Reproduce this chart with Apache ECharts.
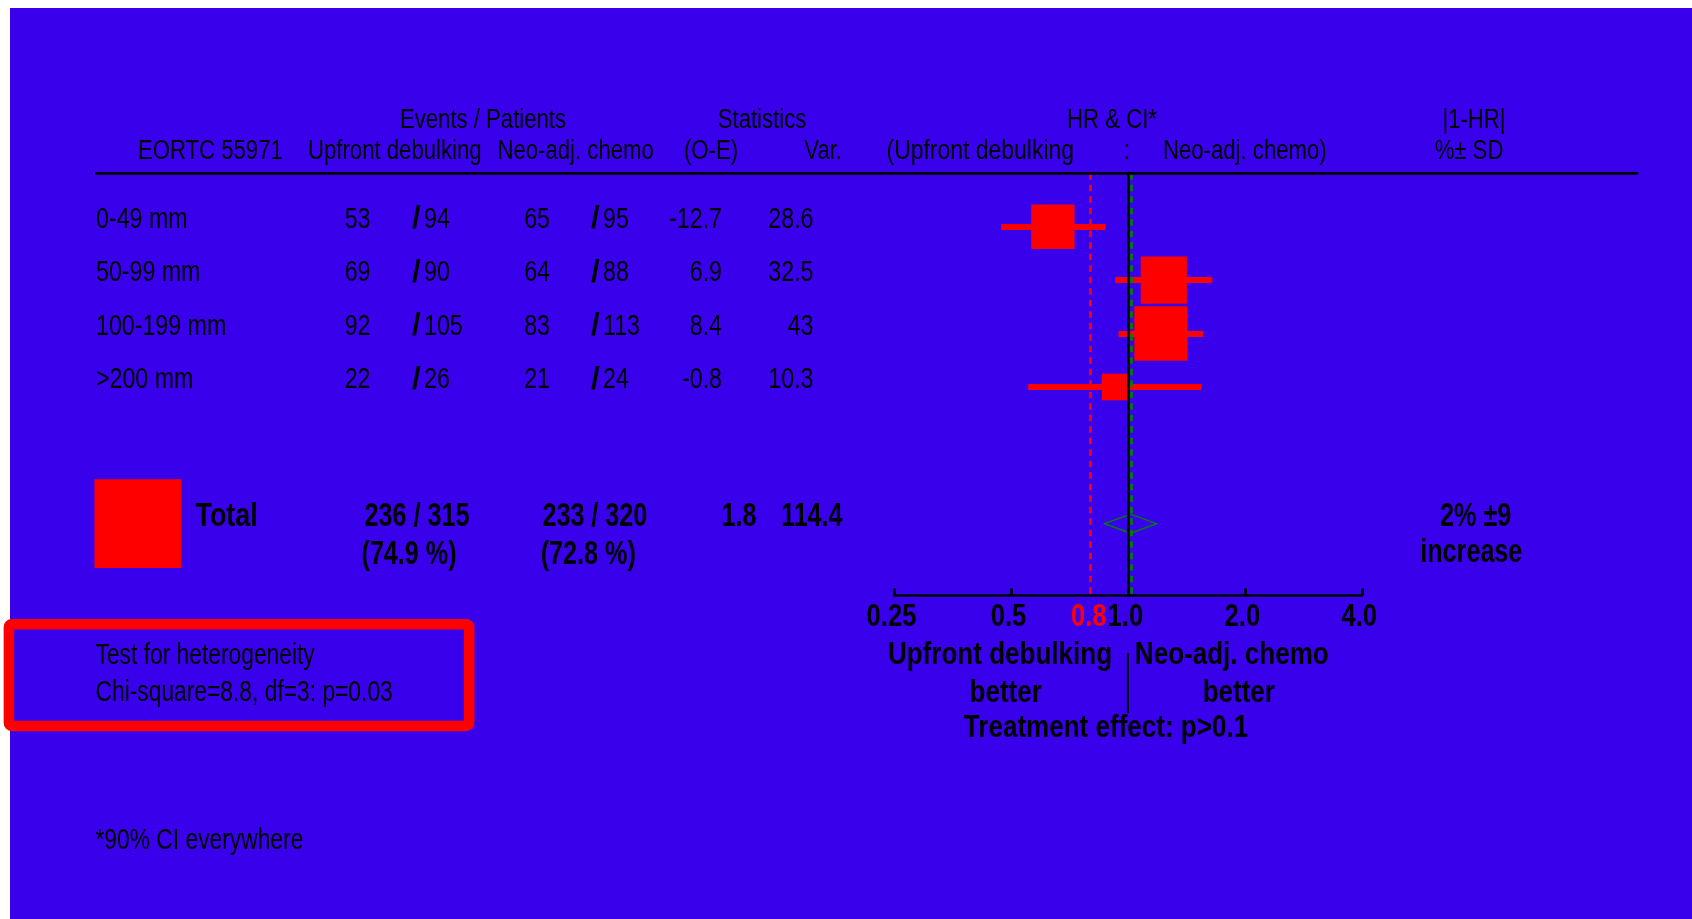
<!DOCTYPE html>
<html>
<head>
<meta charset="utf-8">
<script src="https://cdn.jsdelivr.net/npm/echarts@6/dist/echarts.min.js"></script>
<style>
  html, body { margin: 0; padding: 0; background: #fff; }
  #chart { width: 1692px; height: 919px; }
</style>
</head>
<body>
<div id="chart"></div>
<script>
// EORTC 55971 — residual tumour size subgroups
const subgroups = ['0-49 mm', '50-99 mm', '100-199 mm', '>200 mm'];
const upfrontEvents = [53, 69, 92, 22];
const upfrontPatients = [94, 90, 105, 26];
const neoEvents = [65, 64, 83, 21];
const neoPatients = [95, 88, 113, 24];
const oMinusE = [-12.7, 6.9, 8.4, -0.8];
const variance = [28.6, 32.5, 43, 10.3];
// hazard ratio and 90% confidence limits per subgroup
const hr = [0.641, 1.237, 1.216, 0.925];
const hrLow = [0.472, 0.927, 0.946, 0.554];
const hrHigh = [0.877, 1.650, 1.562, 1.545];

// overall result
const totalUpfront = ['236 / 315', '(74.9 %)'];
const totalNeo = ['233 / 320', '(72.8 %)'];
const totalOE = 1.8;
const totalVar = 114.4;
const totalHR = [0.871, 1.016, 1.185]; // low, estimate, high
const totalChange = ['2% ±9', 'increase'];
const refHR = 0.8;

// HR axis
const xTicks = [0.25, 0.5, 1, 2, 4];
const xTickLabels = ['0.25', '0.5', '1.0', '2.0', '4.0'];

const BLUE = '#3900EC', RED = '#FF0000', GREEN = '#008000', BLACK = '#000000';
const SANS = '"Liberation Sans", Arial, sans-serif';

const Y_MAX = 7.9;        // row slots inside the plot area
const TOTAL_POS = 6.56;   // slot of the overall diamond
const sq = v => [8.1 * Math.sqrt(v), 8.3 * Math.sqrt(v)];

const chart = echarts.init(document.getElementById('chart'), null, { width: 1692, height: 919 });

chart.setOption({
  animation: false,
  backgroundColor: BLUE,
  grid: { left: 894, top: 173.3, width: 467.8, height: 422 },
  xAxis: {
    type: 'log', logBase: 2, min: 0.25, max: 4,
    axisLine: { onZero: false, lineStyle: { color: BLACK, width: 2.7 } },
    axisTick: { inside: true, length: 7, lineStyle: { color: BLACK, width: 2.7 } },
    // tick captions are set in a narrow face below, at the axis' own tick positions
    axisLabel: { show: false },
    splitLine: { show: false }
  },
  yAxis: { type: 'value', min: 0, max: Y_MAX, inverse: true, show: false },
  series: [
    {
      // confidence interval bars
      type: 'lines', coordinateSystem: 'cartesian2d', silent: true, z: 2,
      lineStyle: { color: RED, width: 6, opacity: 1 },
      data: subgroups.map((_, i) => ({ coords: [[hrLow[i], i + 1], [hrHigh[i], i + 1]] }))
    },
    {
      // subgroup estimates, area proportional to variance
      type: 'scatter', silent: true, z: 3, symbol: 'rect',
      symbolSize: d => sq(d[2]),
      itemStyle: { color: RED, opacity: 1 },
      data: subgroups.map((_, i) => [hr[i], i + 1, variance[i]])
    },
    {
      // overall diamond
      type: 'custom', silent: true, z: 4,
      encode: { x: [0, 1, 2], y: 3 },
      data: [[totalHR[0], totalHR[1], totalHR[2], TOTAL_POS]],
      renderItem: (params, api) => {
        const y = api.coord([1, api.value(3)])[1];
        const xl = api.coord([api.value(0), 1])[0];
        const xc = api.coord([api.value(1), 1])[0];
        const xr = api.coord([api.value(2), 1])[0];
        return {
          type: 'polygon',
          shape: { points: [[xl, y], [xc, y - 9.5], [xr, y], [xc, y + 9.5]] },
          style: { fill: null, stroke: GREEN, lineWidth: 1.3 }
        };
      }
    },
    {
      // reference lines
      type: 'line', data: [], z: 10, silent: true,
      markLine: {
        silent: true, symbol: 'none', animation: false,
        label: { show: false },
        data: [
          { xAxis: refHR, lineStyle: { color: RED, type: [6.5, 5], width: 2.7 } },
          { xAxis: totalHR[1], lineStyle: { color: GREEN, type: [6.5, 5], width: 2.7 } },
          { xAxis: 1, lineStyle: { color: BLACK, type: 'solid', width: 2.5 } }
        ]
      }
    }
  ]
});

const px = (x, y) => chart.convertToPixel({ gridIndex: 0 }, [x, y]);

function label(x, y, text, o) {
  return {
    type: 'text', x, y, scaleX: o.sx, z: 20, silent: true,
    style: {
      text, fill: o.color || BLACK,
      font: (o.bold ? 'bold ' : '') + o.size + 'px ' + SANS,
      textAlign: o.align || 'left', textVerticalAlign: 'middle'
    }
  };
}
const H = { size: 27, sx: 0.82 };
const R = { size: 29, sx: 0.8 };
const TOT = { size: 34, bold: true, sx: 0.74 };
const B = { size: 31, bold: true, sx: 0.84 };
const F = { size: 30, sx: 0.76 };
const SL = { size: 31, bold: true, sx: 1 };
const TK = { size: 32, bold: true, sx: 0.8, align: 'center' };

const els = [];
// page margin
els.push({ type: 'rect', z: 1, silent: true, shape: { x: 0, y: 0, width: 10, height: 919 }, style: { fill: '#fff' } });
els.push({ type: 'rect', z: 1, silent: true, shape: { x: 0, y: 0, width: 1692, height: 8 }, style: { fill: '#fff' } });

// column headers
const topY = px(1, 0)[1];
els.push(label(483, 121, 'Events / Patients', { ...H, align: 'center' }));
els.push(label(762, 121, 'Statistics', { ...H, align: 'center' }));
els.push(label(1112, 121, 'HR & CI*', { ...H, align: 'center' }));
els.push(label(1474, 121, '|1-HR|', { ...H, align: 'center' }));
els.push(label(138, 152, 'EORTC 55971', H));
els.push(label(308, 152, 'Upfront debulking', H));
els.push(label(497.5, 152, 'Neo-adj. chemo', H));
els.push(label(684, 152, '(O-E)', H));
els.push(label(842, 152, 'Var.', { ...H, align: 'right' }));
els.push(label(886.5, 152, '(Upfront debulking', { ...H, sx: 0.85 }));
els.push(label(1127, 152, ':', { ...H, align: 'center' }));
els.push(label(1163, 152, 'Neo-adj. chemo)', H));
els.push(label(1469, 152, '%± SD', { ...H, align: 'center' }));
els.push({ type: 'line', z: 15, silent: true, shape: { x1: 95, y1: topY, x2: 1638.3, y2: topY }, style: { stroke: BLACK, lineWidth: 2.7 } });

// subgroup rows
subgroups.forEach((name, i) => {
  const y = px(1, i + 1)[1] - 7;
  els.push(label(96, y, name, R));
  els.push(label(370.5, y, String(upfrontEvents[i]), { ...R, align: 'right' }));
  els.push(label(412, y, '/', SL));
  els.push(label(424, y, String(upfrontPatients[i]), R));
  els.push(label(550, y, String(neoEvents[i]), { ...R, align: 'right' }));
  els.push(label(591, y, '/', SL));
  els.push(label(603, y, String(neoPatients[i]), R));
  els.push(label(722, y, String(oMinusE[i]), { ...R, align: 'right' }));
  els.push(label(813.5, y, String(variance[i]), { ...R, align: 'right' }));
});

// overall row
const yT = px(1, TOTAL_POS)[1];
const tsq = sq(totalVar);
els.push({ type: 'rect', z: 12, silent: true, shape: { x: 137.8 - tsq[0] / 2, y: yT - tsq[1] / 2, width: tsq[0], height: tsq[1] }, style: { fill: RED } });
els.push(label(195.5, yT - 7.5, 'Total', { ...TOT, sx: 0.79 }));
els.push(label(364.5, yT - 7.5, totalUpfront[0], TOT));
els.push(label(361.5, yT + 31, totalUpfront[1], TOT));
els.push(label(542.4, yT - 7.5, totalNeo[0], TOT));
els.push(label(540.7, yT + 31, totalNeo[1], TOT));
els.push(label(756.5, yT - 7.5, String(totalOE), { ...TOT, align: 'right' }));
els.push(label(842.6, yT - 7.5, String(totalVar), { ...TOT, align: 'right' }));
els.push(label(1475.6, yT - 7, totalChange[0], { ...TOT, align: 'center' }));
els.push(label(1471.3, yT + 29, totalChange[1], { ...TOT, align: 'center' }));

// HR axis captions, placed at the axis' own tick positions
const tickY = 617;
xTicks.forEach((t, i) => {
  els.push(label(px(t, 0)[0] - 2.5, tickY, xTickLabels[i], TK));
});
els.push(label(px(refHR, 0)[0] - 1.5, tickY, String(refHR), { ...TK, color: RED }));

const x1 = px(1, 0)[0];
els.push(label(1000, 655, 'Upfront debulking', { ...B, align: 'center' }));
els.push(label(1231.8, 655, 'Neo-adj. chemo', { ...B, align: 'center' }));
els.push(label(1005.7, 693, 'better', { ...B, align: 'center' }));
els.push(label(1238.8, 693, 'better', { ...B, align: 'center' }));
els.push(label(1106, 728.5, 'Treatment effect: p>0.1', { ...B, align: 'center' }));
els.push({ type: 'line', z: 15, silent: true, shape: { x1: x1, y1: 653, x2: x1, y2: 713 }, style: { stroke: BLACK, lineWidth: 2 } });

// heterogeneity box and footnote
els.push({ type: 'rect', z: 5, silent: true, shape: { x: 8.9, y: 624.2, width: 460.3, height: 101.7, r: 3 }, style: { fill: null, stroke: RED, lineWidth: 10.5 } });
els.push(label(95.5, 655.5, 'Test for heterogeneity', F));
els.push(label(95.5, 692.5, 'Chi-square=8.8, df=3: p=0.03', F));
els.push(label(95.5, 841, '*90% CI everywhere', F));

chart.setOption({ graphic: { elements: els } });
</script>
</body>
</html>
